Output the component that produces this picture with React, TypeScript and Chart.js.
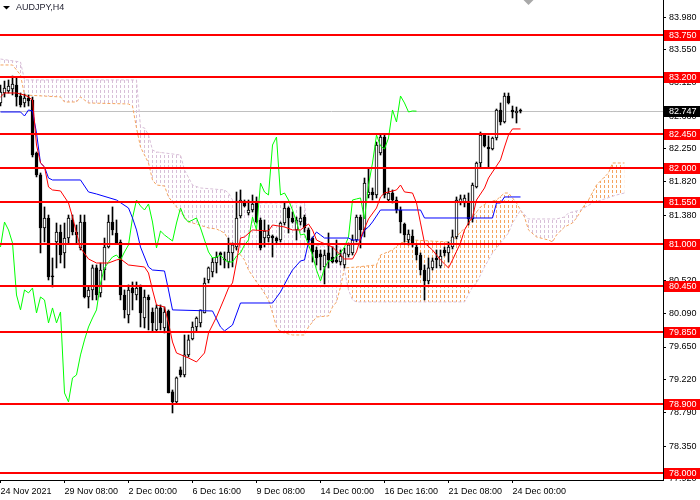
import { useEffect, useRef } from 'react';
import { Chart, registerables } from 'chart.js';
import type { Plugin } from 'chart.js';

Chart.register(...registerables);

const chartTitle = 'AUDJPY,H4';

// H4 candles, bar 0 = 24 Nov 2021 00:00
const opens = [
  82.854, 82.985, 83.011, 83.038, 83.090, 82.946, 82.854, 82.919, 82.893, 82.197,
  81.909, 81.213, 81.344, 80.583, 81.029, 81.160, 80.885, 81.081, 81.318, 81.160,
  80.950, 81.291, 80.307, 80.399, 80.688, 80.360, 80.661, 80.963, 81.291, 81.147,
  81.029, 80.333, 80.071, 80.425, 80.333, 80.438, 80.031, 80.307, 80.110, 79.874,
  80.163, 79.900, 80.123, 79.060, 78.929, 79.349, 79.283, 79.546, 79.756, 79.913,
  79.966, 80.097, 80.530, 80.635, 80.753, 80.885, 80.806, 80.766, 80.885, 80.963,
  81.370, 81.554, 81.410, 81.449, 81.541, 81.318, 81.081, 81.081, 81.108, 81.081,
  81.055, 81.278, 81.475, 81.344, 81.187, 81.291, 81.357, 81.187, 81.081, 80.924,
  80.872, 80.701, 80.885, 80.832, 80.793, 80.766, 80.727, 80.858, 80.885, 81.055,
  81.357, 81.187, 81.646, 81.685, 81.646, 82.197, 82.407, 81.580, 81.672, 81.580,
  81.449, 81.265, 81.055, 81.108, 80.963, 80.858, 80.661, 80.517, 80.688, 80.819,
  80.714, 80.924, 80.885, 80.963, 81.095, 81.554, 81.541, 81.541, 81.331, 81.751,
  82.066, 82.434, 82.276, 82.250, 82.394, 82.762, 82.604, 82.946, 82.762, 82.723,
  82.749,
];
const highs = [
  83.090, 83.142, 83.156, 83.208, 83.182, 82.985, 82.972, 82.959, 82.932, 82.210,
  81.935, 81.489, 81.383, 80.819, 81.278, 81.252, 81.278, 81.383, 81.383, 81.252,
  81.383, 81.383, 80.438, 80.727, 80.727, 80.753, 81.081, 81.383, 81.489, 81.318,
  81.055, 80.399, 80.465, 80.504, 80.504, 80.465, 80.399, 80.333, 80.163, 80.202,
  80.202, 80.176, 80.137, 79.086, 79.257, 79.388, 79.808, 79.808, 79.979, 80.045,
  80.137, 80.556, 80.701, 80.819, 80.898, 80.898, 80.898, 81.081, 81.016, 81.685,
  81.712, 81.580, 81.580, 81.646, 81.620, 81.344, 81.318, 81.252, 81.121, 81.095,
  81.291, 81.541, 81.489, 81.423, 81.357, 81.489, 81.383, 81.213, 81.095, 80.963,
  80.924, 80.924, 81.147, 80.963, 81.055, 80.924, 80.950, 81.016, 81.121, 81.383,
  81.383, 81.869, 82.001, 81.738, 82.341, 82.434, 82.434, 81.738, 81.712, 81.620,
  81.489, 81.278, 81.187, 81.187, 80.990, 80.885, 80.727, 80.819, 80.819, 80.924,
  80.924, 80.963, 81.029, 81.187, 81.620, 81.646, 81.646, 81.672, 81.803, 82.079,
  82.473, 82.434, 82.420, 82.407, 82.775, 82.854, 82.985, 82.985, 82.814, 82.801,
  82.775,
];
const lows = [
  82.814, 82.932, 82.985, 82.959, 82.814, 82.801, 82.801, 82.814, 82.145, 81.883,
  80.885, 81.029, 80.530, 80.438, 80.688, 80.753, 80.688, 81.016, 81.121, 81.016,
  80.924, 80.294, 80.163, 80.268, 80.268, 80.307, 80.530, 80.950, 81.121, 81.016,
  80.268, 80.031, 79.966, 80.137, 80.268, 79.913, 79.900, 79.874, 79.848, 79.848,
  79.874, 79.835, 79.047, 78.784, 78.915, 79.257, 79.257, 79.519, 79.743, 79.848,
  79.913, 80.097, 80.491, 80.570, 80.622, 80.727, 80.688, 80.688, 80.701, 80.924,
  81.344, 81.489, 81.383, 81.423, 81.278, 80.924, 80.963, 81.029, 80.832, 81.016,
  81.029, 81.252, 81.147, 81.278, 81.055, 81.252, 81.160, 81.016, 80.766, 80.727,
  80.661, 80.478, 80.688, 80.753, 80.753, 80.727, 80.688, 80.832, 80.858, 81.029,
  80.950, 81.095, 81.607, 81.580, 81.607, 82.171, 81.607, 81.554, 81.541, 81.410,
  81.147, 81.029, 80.990, 80.963, 80.793, 80.596, 80.268, 80.478, 80.661, 80.688,
  80.688, 80.845, 80.766, 80.937, 81.068, 81.515, 81.489, 81.252, 81.291, 81.738,
  82.014, 82.276, 82.014, 82.237, 82.368, 82.565, 82.591, 82.841, 82.657, 82.591,
  82.723,
];
const closes = [
  82.998, 83.051, 83.077, 83.103, 82.932, 82.827, 82.919, 82.880, 82.171, 81.909,
  81.213, 81.344, 80.570, 80.570, 81.160, 80.858, 81.081, 81.344, 81.160, 81.121,
  81.291, 80.307, 80.399, 80.688, 80.333, 80.661, 80.963, 81.291, 81.187, 81.016,
  80.333, 80.137, 80.399, 80.360, 80.425, 80.097, 80.307, 80.268, 79.966, 80.163,
  79.966, 80.110, 79.047, 78.929, 79.244, 79.283, 79.546, 79.743, 79.913, 80.031,
  80.137, 80.491, 80.688, 80.766, 80.832, 80.858, 80.793, 80.898, 80.990, 81.344,
  81.580, 81.502, 81.449, 81.528, 81.291, 80.950, 81.173, 81.121, 81.081, 81.042,
  81.278, 81.475, 81.344, 81.291, 81.318, 81.344, 81.213, 81.055, 80.898, 80.819,
  80.832, 80.858, 80.793, 80.766, 80.766, 80.845, 80.885, 80.990, 81.055, 81.357,
  81.187, 81.803, 81.685, 81.646, 82.302, 82.407, 81.646, 81.672, 81.580, 81.449,
  81.291, 81.121, 81.134, 80.990, 80.858, 80.661, 80.517, 80.688, 80.780, 80.793,
  80.845, 80.885, 80.963, 81.095, 81.580, 81.594, 81.607, 81.331, 81.777, 82.066,
  82.434, 82.289, 82.250, 82.394, 82.762, 82.604, 82.946, 82.854, 82.736, 82.749,
  82.747,
];

// Ichimoku lines, read at their corners (bar index / price)
const tenkanBars = [0, 1, 4, 6, 7, 8, 9, 10, 11, 12, 13, 15, 17, 18, 19, 20, 22, 24, 27, 29, 30, 32, 36, 37, 38, 39, 41, 42, 43, 44, 47, 49, 51, 52, 54, 56, 57, 58, 59, 60, 61, 63, 67, 68, 71, 73, 75, 77, 78, 79, 80, 83, 85, 86, 88, 89, 90, 92, 94, 95, 96, 99, 100, 101, 103, 104, 105, 106, 108, 110, 112, 113, 115, 116, 117, 118, 119, 121, 122, 124, 125, 126, 127, 128, 130];
const tenkanPrices = [82.933, 82.985, 82.985, 82.959, 82.933, 82.893, 82.302, 82.066, 82.014, 81.751, 81.712, 81.699, 81.541, 81.357, 81.147, 80.950, 80.806, 80.753, 80.753, 80.793, 80.806, 80.727, 80.701, 80.622, 80.399, 80.202, 80.176, 79.966, 79.716, 79.572, 79.506, 79.454, 79.572, 79.834, 80.044, 80.294, 80.425, 80.491, 80.766, 81.081, 81.095, 81.187, 81.173, 81.252, 81.226, 81.187, 81.187, 81.265, 81.187, 81.055, 81.029, 80.963, 80.858, 80.806, 80.806, 80.898, 81.081, 81.331, 81.475, 81.620, 81.672, 81.712, 81.777, 81.686, 81.672, 81.541, 81.279, 81.016, 80.924, 80.793, 80.688, 80.793, 81.016, 81.187, 81.279, 81.357, 81.580, 81.738, 81.869, 82.027, 82.106, 82.276, 82.434, 82.513, 82.513];

const kijunBars = [0, 5, 6, 7, 8, 9, 10, 11, 12, 13, 20, 22, 24, 29, 32, 33, 34, 35, 37, 38, 41, 42, 43, 53, 55, 56, 58, 60, 68, 70, 72, 73, 75, 76, 77, 78, 79, 80, 81, 87, 88, 90, 91, 92, 93, 95, 105, 106, 123, 124, 125, 126, 130];
const kijunPrices = [82.736, 82.736, 82.683, 82.762, 82.749, 82.460, 82.066, 82.014, 81.869, 81.843, 81.843, 81.686, 81.659, 81.580, 81.475, 81.344, 81.187, 80.963, 80.701, 80.661, 80.648, 80.399, 80.137, 80.123, 79.913, 79.861, 79.939, 80.228, 80.228, 80.373, 80.570, 80.661, 80.780, 80.793, 81.029, 81.081, 81.160, 81.121, 81.081, 81.081, 81.055, 81.055, 81.187, 81.226, 81.292, 81.449, 81.449, 81.344, 81.344, 81.541, 81.541, 81.620, 81.620];

const spanABars = [0, 3, 5, 6, 15, 16, 19, 20, 21, 22, 32, 33, 34, 35, 37, 38, 39, 41, 42, 43, 44, 46, 47, 49, 52, 54, 56, 57, 59, 61, 62, 64, 65, 67, 68, 69, 70, 73, 76, 77, 79, 82, 83, 84, 85, 86, 89, 94, 95, 98, 100, 103, 112, 114, 115, 117, 118, 120, 122, 124, 126, 127, 129, 131, 132, 134, 137, 138, 139, 141, 143, 144, 146, 147, 149, 152, 153, 156];
const spanAPrices = [83.353, 83.353, 83.222, 82.959, 82.933, 82.867, 82.867, 82.933, 82.893, 82.854, 82.841, 82.814, 82.526, 82.276, 82.066, 81.843, 81.777, 81.764, 81.620, 81.554, 81.489, 81.357, 81.292, 81.265, 81.213, 81.200, 81.147, 81.055, 80.924, 80.793, 80.661, 80.504, 80.438, 80.268, 80.097, 79.913, 79.848, 79.808, 79.808, 79.913, 80.044, 80.058, 80.176, 80.242, 80.438, 80.688, 80.701, 80.727, 80.858, 80.924, 81.016, 81.055, 81.029, 81.095, 81.160, 81.252, 81.357, 81.489, 81.554, 81.580, 81.672, 81.672, 81.541, 81.357, 81.187, 81.095, 81.055, 81.029, 81.121, 81.226, 81.279, 81.344, 81.515, 81.580, 81.777, 81.935, 82.066, 82.066];

const spanBBars = [0, 5, 6, 34, 35, 36, 37, 38, 39, 45, 46, 48, 50, 56, 57, 58, 60, 76, 77, 85, 86, 87, 88, 89, 116, 118, 119, 121, 123, 125, 127, 128, 129, 130, 132, 139, 141, 142, 145, 148, 151, 154, 156];
const spanBPrices = [83.431, 83.392, 83.156, 83.156, 82.539, 82.526, 82.434, 82.237, 82.211, 82.171, 81.974, 81.777, 81.738, 81.712, 81.672, 81.580, 81.541, 81.541, 80.990, 80.963, 80.661, 80.399, 80.268, 80.242, 80.242, 80.438, 80.491, 80.701, 80.885, 81.016, 81.147, 81.279, 81.360, 81.449, 81.331, 81.331, 81.357, 81.410, 81.449, 81.541, 81.594, 81.646, 81.672];

const chikouShift = 26;

const levelPrices = [83.75, 83.2, 82.45, 82.0, 81.55, 81.0, 80.45, 79.85, 78.9, 78.0];
const bidPrice = 82.747;
const priceTicks = [83.98, 83.55, 83.12, 82.68, 82.25, 81.82, 81.38, 80.95, 80.52, 80.09, 79.65, 79.22, 78.79, 78.35, 77.92];
const timeTickBars = [0, 16, 32, 48, 64, 80, 96, 112, 128];
const timeTickLabels = ['24 Nov 2021', '29 Nov 08:00', '2 Dec 00:00', '6 Dec 16:00', '9 Dec 08:00', '14 Dec 00:00', '16 Dec 16:00', '21 Dec 08:00', '24 Dec 00:00'];
const shiftMarkerBar = 132;

const FONT = '9px "Liberation Sans", Arial, sans-serif';

const points = (bars: number[], prices: number[]) => bars.map((b, i) => ({ x: b, y: prices[i] }));

function hatch(color: string) {
  const c = document.createElement('canvas');
  c.width = 4;
  c.height = 5;
  const g = c.getContext('2d')!;
  g.fillStyle = color;
  g.fillRect(0, 0, 1, 3);
  return g.createPattern(c, 'repeat')!;
}

const mt4Overlay: Plugin<'bar'> = {
  id: 'mt4Overlay',
  beforeDatasetsDraw(chart) {
    const { ctx, chartArea: a, scales } = chart;
    const y = Math.round(scales.y.getPixelForValue(bidPrice)) + 0.5;
    ctx.save();
    ctx.strokeStyle = '#C0C0C0';
    ctx.lineWidth = 1;
    ctx.beginPath();
    ctx.moveTo(a.left, y);
    ctx.lineTo(a.right, y);
    ctx.stroke();
    ctx.restore();
  },
  afterDatasetsDraw(chart) {
    const { ctx, chartArea: a, scales } = chart;
    ctx.save();
    ctx.fillStyle = '#FF0000';
    levelPrices.forEach((p) => {
      const y = Math.round(scales.y.getPixelForValue(p));
      ctx.fillRect(a.left, y - 1, a.right - a.left, 2);
    });
    ctx.restore();
  },
  afterDraw(chart) {
    const { ctx, chartArea: a, scales, width } = chart;
    ctx.save();
    ctx.font = FONT;
    ctx.textBaseline = 'middle';
    ctx.textAlign = 'left';
    const tag = (p: number, bg: string) => {
      const y = Math.round(scales.y.getPixelForValue(p));
      ctx.fillStyle = bg;
      ctx.fillRect(a.right + 1, y - 5, width - a.right - 1, 11);
      ctx.fillStyle = '#FFFFFF';
      ctx.fillText(p.toFixed(3), a.right + 6, y + 0.5);
    };
    levelPrices.forEach((p) => tag(p, '#FF0000'));
    tag(bidPrice, '#000000');

    // symbol caption
    ctx.fillStyle = '#000000';
    ctx.beginPath();
    ctx.moveTo(3, 6);
    ctx.lineTo(10, 6);
    ctx.lineTo(6.5, 9.5);
    ctx.closePath();
    ctx.fill();
    ctx.fillStyle = '#1E1E2E';
    ctx.fillText(chartTitle, 16, 8);

    // chart shift marker
    const sx = scales.x.getPixelForValue(shiftMarkerBar);
    ctx.fillStyle = '#A9A9A9';
    ctx.beginPath();
    ctx.moveTo(sx - 5, 0);
    ctx.lineTo(sx + 5, 0);
    ctx.lineTo(sx, 5);
    ctx.closePath();
    ctx.fill();
    ctx.restore();
  },
};

export default function App() {
  const canvasRef = useRef<HTMLCanvasElement>(null);
  const chartRef = useRef<Chart | null>(null);

  useEffect(() => {
    if (!canvasRef.current) return;
    const ctx = canvasRef.current.getContext('2d');
    if (!ctx) return;
    if (chartRef.current) chartRef.current.destroy();

    const orangeHatch = hatch('#F4A460');
    const plumHatch = hatch('#D8BFD8');

    chartRef.current = new Chart(ctx, {
      type: 'bar',
      data: {
        datasets: [
          {
            type: 'line',
            label: 'Senkou Span A',
            data: points(spanABars, spanAPrices),
            borderColor: '#F4A460',
            borderWidth: 1,
            borderDash: [3, 2],
            pointRadius: 0,
            fill: { target: '+1', above: orangeHatch, below: plumHatch },
            order: 10,
          },
          {
            type: 'line',
            label: 'Senkou Span B',
            data: points(spanBBars, spanBPrices),
            borderColor: '#D8BFD8',
            borderWidth: 1,
            borderDash: [3, 2],
            pointRadius: 0,
            fill: false,
            order: 9,
          },
          {
            type: 'bar',
            label: 'wick',
            data: opens.map((_, i) => ({ x: i, y: [lows[i], highs[i]] })),
            backgroundColor: '#000000',
            barThickness: 1,
            grouped: false,
            order: 6,
          },
          {
            type: 'bar',
            label: 'body',
            data: opens.map((o, i) => ({ x: i, y: [o, closes[i]] })),
            backgroundColor: opens.map((o, i) => (closes[i] >= o ? '#FFFFFF' : '#000000')),
            borderColor: '#000000',
            borderWidth: 1,
            borderSkipped: false,
            barThickness: 3,
            minBarLength: 1,
            grouped: false,
            order: 5,
          },
          {
            type: 'line',
            label: 'Chikou Span',
            data: closes.slice(chikouShift).map((c, j) => ({ x: j, y: c })),
            borderColor: '#00FF00',
            borderWidth: 1,
            pointRadius: 0,
            order: 3,
          },
          {
            type: 'line',
            label: 'Kijun-sen',
            data: points(kijunBars, kijunPrices),
            borderColor: '#0000FF',
            borderWidth: 1,
            pointRadius: 0,
            order: 2,
          },
          {
            type: 'line',
            label: 'Tenkan-sen',
            data: points(tenkanBars, tenkanPrices),
            borderColor: '#FF0000',
            borderWidth: 1,
            pointRadius: 0,
            order: 1,
          },
        ],
      } as any,
      options: {
        animation: false,
        responsive: true,
        maintainAspectRatio: false,
        events: [],
        layout: { padding: 0 },
        plugins: {
          legend: { display: false },
          tooltip: { enabled: false },
        },
        scales: {
          x: {
            type: 'linear',
            min: -0.125,
            max: 165.625,
            offset: false,
            bounds: 'data',
            grid: { display: true, drawOnChartArea: false, drawTicks: true, tickLength: 3, color: '#000000', offset: false },
            border: { display: true, color: '#000000', width: 1 },
            ticks: {
              autoSkip: false,
              maxRotation: 0,
              minRotation: 0,
              align: 'start',
              padding: 3,
              color: '#000000',
              font: { family: '"Liberation Sans", Arial, sans-serif', size: 9 },
              callback: (_v: any, i: number) => timeTickLabels[i] ?? '',
            },
            afterBuildTicks: (s: any) => {
              s.ticks = timeTickBars.map((v) => ({ value: v }));
            },
            afterFit: (s: any) => {
              s.height = 20;
              s.paddingLeft = 0;
              s.paddingRight = 0;
            },
          },
          y: {
            type: 'linear',
            position: 'right',
            min: 77.904,
            max: 84.206,
            beginAtZero: false,
            bounds: 'data',
            grid: { display: true, drawOnChartArea: false, drawTicks: true, tickLength: 3, color: '#000000' },
            border: { display: true, color: '#000000', width: 1 },
            ticks: {
              autoSkip: false,
              padding: 3,
              color: '#000000',
              font: { family: '"Liberation Sans", Arial, sans-serif', size: 9 },
              callback: (v: any) => Number(v).toFixed(3),
            },
            afterBuildTicks: (s: any) => {
              s.ticks = priceTicks.map((v) => ({ value: v }));
            },
            afterFit: (s: any) => {
              s.width = 37;
              s.paddingTop = 0;
              s.paddingBottom = 0;
            },
          },
        },
      } as any,
      plugins: [mt4Overlay],
    });

    return () => {
      if (chartRef.current) {
        chartRef.current.destroy();
        chartRef.current = null;
      }
    };
  }, []);

  return (
    <div style={{ position: 'fixed', left: 0, top: 0, width: 700, height: 500, background: '#FFFFFF' }}>
      <canvas ref={canvasRef} />
    </div>
  );
}
